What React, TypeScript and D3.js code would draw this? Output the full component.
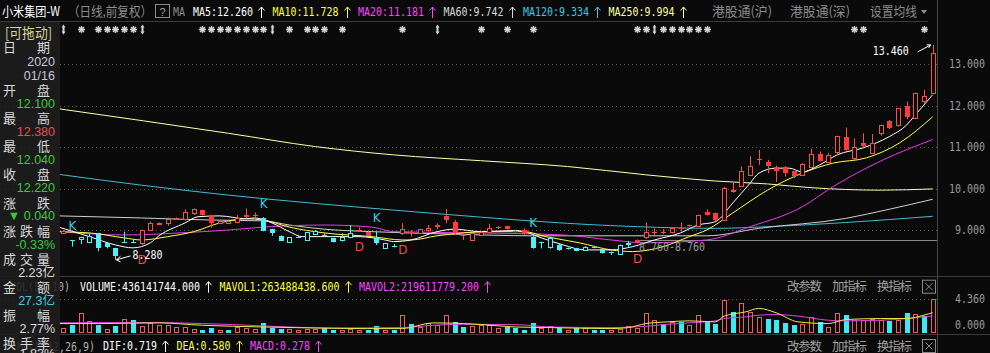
import React from 'react';
import * as d3 from 'd3';

const W = 990;
const H = 353;

// daily candles, oldest first (101 bars)
const opens = [8.92, 8.75, 8.78, 8.72, 8.92, 8.69, 8.56, 8.71, 8.72, 8.68, 9.0, 9.15, 9.16, 9.27, 9.26, 9.42, 9.48, 9.36, 9.16, 9.17, 9.2, 9.36, 9.36, 9.3, 9.02, 8.86, 8.72, 8.84, 8.76, 8.9, 8.89, 8.8, 8.76, 8.84, 9.0, 8.96, 8.8, 8.57, 8.62, 8.92, 8.96, 8.92, 9.0, 9.12, 9.34, 9.2, 8.88, 8.76, 8.88, 8.96, 9.08, 9.1, 8.97, 9.0, 8.84, 8.72, 8.58, 8.64, 8.56, 8.56, 8.52, 8.6, 8.54, 8.47, 8.41, 8.69, 8.76, 8.82, 8.94, 8.95, 8.94, 9.04, 9.13, 9.1, 9.44, 9.4, 9.24, 9.95, 10.07, 10.32, 10.7, 10.65, 10.53, 10.53, 10.41, 10.33, 10.53, 10.83, 10.65, 10.89, 11.23, 10.73, 11.09, 10.85, 11.33, 11.63, 11.53, 11.99, 11.69, 12.1, 12.31];
const highs = [9.0, 8.76, 8.84, 8.92, 8.93, 8.7, 8.57, 8.96, 8.76, 9.01, 9.2, 9.18, 9.3, 9.3, 9.5, 9.52, 9.49, 9.37, 9.24, 9.23, 9.36, 9.52, 9.42, 9.31, 9.03, 8.87, 8.83, 8.87, 8.95, 9.0, 8.92, 8.81, 8.92, 9.12, 9.06, 8.97, 8.96, 8.69, 8.66, 9.16, 9.0, 9.03, 9.12, 9.16, 9.5, 9.24, 8.93, 8.93, 8.97, 9.15, 9.09, 9.1, 8.99, 9.04, 8.85, 8.72, 8.81, 8.68, 8.58, 8.57, 8.61, 8.62, 8.55, 8.48, 8.65, 8.74, 8.77, 9.18, 9.04, 9.02, 9.05, 9.18, 9.13, 9.37, 9.5, 9.42, 10.04, 10.14, 10.53, 10.78, 10.93, 10.69, 10.55, 10.54, 10.43, 10.61, 10.96, 10.89, 10.86, 11.27, 11.47, 11.21, 11.33, 11.31, 11.54, 11.65, 11.93, 12.09, 12.31, 12.38, 13.46];
const lows = [8.9, 8.6, 8.66, 8.68, 8.49, 8.56, 8.28, 8.69, 8.68, 8.64, 8.98, 9.12, 9.1, 9.24, 9.23, 9.36, 9.35, 9.06, 9.14, 9.16, 9.16, 9.28, 9.28, 8.97, 8.86, 8.73, 8.71, 8.81, 8.75, 8.88, 8.85, 8.7, 8.72, 8.8, 8.96, 8.85, 8.64, 8.55, 8.58, 8.88, 8.84, 8.91, 8.96, 9.02, 9.16, 8.88, 8.76, 8.75, 8.86, 8.92, 9.02, 9.01, 8.94, 8.88, 8.55, 8.56, 8.55, 8.5, 8.53, 8.49, 8.51, 8.56, 8.43, 8.4, 8.4, 8.58, 8.68, 8.78, 8.84, 8.9, 8.92, 8.96, 9.08, 9.08, 9.35, 9.22, 9.22, 9.9, 10.05, 10.3, 10.57, 10.37, 10.16, 10.29, 10.25, 10.3, 10.5, 10.65, 10.63, 10.81, 10.91, 10.69, 10.99, 10.83, 11.27, 11.43, 11.49, 11.67, 11.67, 12.04, 12.3];
const closes = [8.98, 8.74, 8.84, 8.85, 8.56, 8.58, 8.37, 8.72, 8.71, 9.0, 9.16, 9.16, 9.26, 9.28, 9.43, 9.5, 9.36, 9.16, 9.22, 9.21, 9.3, 9.32, 9.36, 8.98, 8.92, 8.74, 8.82, 8.84, 8.94, 8.98, 8.88, 8.72, 8.84, 8.92, 9.0, 8.86, 8.68, 8.68, 8.61, 9.02, 8.92, 9.02, 9.06, 9.07, 9.23, 8.92, 8.91, 8.92, 8.96, 9.06, 9.08, 9.02, 8.96, 8.92, 8.56, 8.7, 8.8, 8.52, 8.56, 8.5, 8.6, 8.59, 8.44, 8.46, 8.64, 8.65, 8.7, 8.94, 8.95, 8.94, 9.04, 9.03, 9.13, 9.36, 9.35, 9.24, 10.02, 9.96, 10.42, 10.54, 10.71, 10.54, 10.41, 10.38, 10.29, 10.59, 10.83, 10.67, 10.81, 11.27, 10.93, 11.01, 11.02, 11.1, 11.52, 11.45, 11.93, 11.73, 12.29, 12.22, 13.26];
// volume in 亿 shares
const volumes = [0.7, 1.0, 2.65, 1.52, 1.0, 0.57, 0.87, 1.87, 1.65, 0.87, 1.31, 1.0, 1.0, 0.78, 0.78, 0.57, 0.44, 0.65, 0.44, 0.44, 0.78, 0.7, 0.57, 1.35, 0.65, 0.57, 0.57, 0.35, 0.57, 0.48, 0.7, 0.44, 0.44, 0.57, 0.44, 0.44, 0.87, 0.44, 0.44, 2.31, 1.22, 0.78, 1.31, 1.09, 2.31, 1.44, 0.78, 0.87, 1.0, 1.0, 0.7, 0.78, 0.7, 0.44, 1.31, 0.7, 0.87, 0.7, 0.44, 0.7, 0.7, 0.44, 0.44, 0.44, 0.57, 0.87, 0.7, 2.65, 1.68, 1.22, 1.44, 1.44, 1.0, 2.31, 1.44, 1.22, 4.33, 2.74, 3.92, 2.74, 2.09, 1.87, 1.65, 1.31, 1.09, 1.22, 2.09, 1.44, 0.78, 2.61, 2.31, 1.74, 1.74, 1.87, 1.74, 1.57, 1.74, 2.61, 2.52, 2.23, 4.36];

// signal bars: K = 空 (turn cyan), D = 多 (turn red)
const kSignals = [1, 23, 36, 54];
const dSignals = [9, 34, 39, 66];

// moving averages as [bar index, value]
const ma5 = [[-0.5, 9.07], [3, 8.84], [6, 8.64], [8, 8.57], [10, 8.69], [11, 8.86], [14, 9.17], [15.5, 9.32], [18, 9.34], [21, 9.27], [22, 9.29], [24, 9.17], [26, 8.96], [27.5, 8.84], [30, 8.84], [34, 8.84], [37, 8.76], [38, 8.72], [40, 8.76], [43, 8.96], [45, 9.02], [48, 8.96], [52, 8.99], [53, 8.96], [55, 8.81], [57.5, 8.64], [60, 8.52], [63, 8.52], [65.5, 8.6], [68, 8.76], [71, 8.93], [73, 9.12], [75, 9.2], [77, 9.65], [79, 10.13], [80, 10.37], [82, 10.49], [83.5, 10.49], [85, 10.4], [87, 10.57], [89, 10.81], [92, 10.98], [95, 11.25], [97, 11.53], [98, 11.77], [100, 12.26]];
const ma10 = [[-0.5, 8.96], [3, 8.93], [7, 8.81], [9, 8.76], [12, 8.84], [15, 8.96], [18, 9.17], [21, 9.27], [23, 9.24], [26, 9.07], [30, 8.93], [35.5, 8.84], [39, 8.76], [40, 8.76], [43, 8.86], [49, 8.96], [53, 8.96], [55.5, 8.84], [59.4, 8.69], [63, 8.52], [65.5, 8.48], [69, 8.6], [72, 8.84], [74, 9.0], [77, 9.41], [81, 9.96], [85, 10.37], [88.5, 10.61], [92.4, 10.74], [96.2, 11.1], [100, 11.73]];
const ma20 = [[-0.5, 8.96], [7, 8.88], [14.3, 8.94], [19, 9.0], [23, 9.07], [30, 9.12], [35.5, 9.07], [38, 8.96], [48, 8.93], [57.5, 8.88], [63, 8.76], [67, 8.69], [74, 8.76], [79, 9.08], [85, 9.56], [88.5, 10.04], [94.3, 10.69], [100, 11.18]];
const ma60 = [[-0.5, 9.34], [9, 9.29], [17, 9.24], [23, 9.22], [26, 9.12], [30, 9.02], [35.5, 8.96], [45, 8.9], [54, 8.86], [74, 8.86], [80, 9.04], [90, 9.28], [95, 9.5], [100, 9.74]];
const ma120 = [[-0.5, 10.34], [9, 10.08], [19, 9.84], [29, 9.64], [38, 9.48], [48, 9.31], [58, 9.16], [66, 9.08], [75, 9.04], [81, 9.08], [90, 9.18], [100, 9.33]];
const ma250 = [[-0.5, 11.92], [19, 11.33], [29, 11.01], [38, 10.81], [48, 10.67], [58, 10.53], [67, 10.33], [75, 10.18], [81, 10.11], [86, 10.02], [94, 9.96], [100, 9.99]];
const mavol1 = [[-0.5, 1.22], [4, 1.22], [11, 1.31], [16, 1.0], [19.5, 0.87], [23, 0.78], [31, 0.61], [35, 0.57], [39, 0.57], [42.5, 1.31], [46, 1.22], [48, 1.1], [52, 0.78], [56, 0.7], [63, 0.57], [65, 0.7], [67, 1.22], [69.5, 1.44], [72, 1.57], [75, 1.44], [76, 2.18], [78.5, 2.74], [80, 3.18], [82, 2.61], [84.5, 1.44], [88, 1.22], [90, 1.74], [94, 1.87], [97, 1.87], [99, 2.31], [100, 2.63]];
const mavol2 = [[-0.5, 1.31], [4, 1.35], [11, 1.35], [16, 1.22], [19.5, 1.09], [23, 0.91], [31, 0.65], [39, 0.7], [42.5, 1.0], [46, 1.13], [52, 1.09], [56, 0.78], [63, 0.7], [67, 0.87], [69.5, 1.13], [72, 1.31], [75, 1.57], [76, 1.87], [78.5, 2.09], [80, 2.31], [82, 2.39], [84.5, 2.18], [88, 1.65], [90, 1.57], [94, 1.65], [97, 1.87], [99, 2.09], [100, 2.2]];

// marker row above the candles
const starIdx = [2, 4, 5, 6, 7, 8, 16, 17, 18, 19, 20, 21, 22, 23, 26, 28, 29, 30, 32, 39, 48, 51, 54, 66, 67, 69, 70, 71, 72, 73, 74, 91, 92, 99];
const flagIdx = [0, 9, 24, 43, 68];

const priceTicks = [13, 12, 11, 10, 9];
const volTicks = [4.36, 0];
const lowMark = { idx: 6, text: '8.280' };
const highMark = { idx: 100, text: '13.460' };
const hLineValue = 8.76;

const maLegend = [['MA5', '12.260'], ['MA10', '11.728'], ['MA20', '11.181'], ['MA60', '9.742'], ['MA120', '9.334'], ['MA250', '9.994']];
const volLegend = [['VOLUME', '436141744.000'], ['MAVOL1', '263488438.600'], ['MAVOL2', '219611779.200']];
const macdLegend = [['DIF', '0.719'], ['DEA', '0.580'], ['MACD', '0.278']];

const infoLabels = ['日期', '开盘', '最高', '最低', '收盘', '涨跌', '涨跌幅', '成交量', '金额', '振幅', '换手率'];
const infoValues = [['2020', '01/16'], ['12.100'], ['12.380'], ['12.040'], ['12.220'], ['▼ 0.040'], ['-0.33%'], ['2.23亿'], ['27.3亿'], ['2.77%'], ['1.83%']];

const BG = '#0a0a0a';
const RED = '#f2514c';
const RED_FILL = '#ff3a3a';
const CYAN = '#4ef0fa';
const MONO = "'DejaVu Sans Mono', monospace";
const CJK = "'Noto Sans CJK SC', sans-serif";
const SANS = "'Liberation Sans', Arial, sans-serif";

const maColors = ['#ffffff', '#ffff3c', '#e63ce6', '#cfcfcf', '#3cbdd6', '#ffffa8'];
const legendColors = ['#ffffff', '#ffff3c', '#ff44ff', '#d8d8d8', '#44c4e4', '#ffffa8'];
const infoColors = ['#c8c8d6', '#3cc83c', '#e65050', '#3cc83c', '#3cc83c', '#3cc83c', '#3cc83c', '#dcdcdc', '#44cce4', '#dcdcdc', '#dcdcdc'];

const xs = d3.scaleLinear().domain([0, 100]).range([63.3, 932.7]);
const yp = d3.scaleLinear().domain([9, 13]).range([230, 64]);
const yv = d3.scaleLinear().domain([0, 4.36]).range([333, 299.3]);

const Mono = ({ x, y, text, fill, cw = 6, size = 11.5, anchor = 'start' }: any) => {
  const len = text.length * cw;
  const x0 = anchor === 'end' ? x - len : x;
  return (
    <text x={x0} y={y} fill={fill} fontSize={size} fontFamily={MONO} textLength={len} lengthAdjust="spacingAndGlyphs">
      {text}
    </text>
  );
};

const UpArrow = ({ x, yc, color }: any) => (
  <path d={`M${x + 0.5},${yc + 6} V${yc - 5} M${x - 2.5},${yc - 1.5} L${x + 0.5},${yc - 5} L${x + 3.5},${yc - 1.5}`} stroke={color} fill="none" strokeWidth={1} />
);

const Legend = ({ items, colors, x0, yc }: any) => {
  let x = x0;
  return (
    <g>
      {items.map(([name, val]: string[], i: number) => {
        const s = `${name}:${val}`;
        const cx = x;
        x += s.length * 6 + 19.5;
        return (
          <g key={i}>
            <Mono x={cx} y={yc + 4} text={s} fill={colors[i]} />
            <UpArrow x={Math.round(cx + s.length * 6 + 8)} yc={yc} color={colors[i]} />
          </g>
        );
      })}
    </g>
  );
};

const CloseBox = ({ x, y }: any) => (
  <g stroke="#8a8a8a" fill="none">
    <rect x={x + 0.5} y={y + 0.5} width={13} height={13} />
    <path d={`M${x + 3.5},${y + 3.5} L${x + 10.5},${y + 10.5} M${x + 10.5},${y + 3.5} L${x + 3.5},${y + 10.5}`} />
  </g>
);

const ToolTexts = ({ yc }: any) => (
  <g fontFamily={CJK} fontSize={12.5} fill="#a0a0a0">
    <text x={787} y={yc + 4.5} textLength={35}>改参数</text>
    <text x={832} y={yc + 4.5} textLength={35}>加指标</text>
    <text x={877} y={yc + 4.5} textLength={35}>换指标</text>
    <CloseBox x={922} y={yc - 7} />
  </g>
);

// eight-armed marker like the terminal's asterisk
const Star = ({ x, y }: any) => {
  const r = 3.5;
  const d = 2.5;
  return (
    <path
      d={`M${x - r},${y} H${x + r} M${x},${y - r} V${y + r} M${x - d},${y - d} L${x + d},${y + d} M${x + d},${y - d} L${x - d},${y + d}`}
      stroke="#d4d4d4"
      strokeWidth={1.4}
      fill="none"
    />
  );
};

const Flag = ({ x, y }: any) => (
  <path
    d={`M${x},${y - 5} L${x + 2},${y - 2} H${x + 1} V${y + 2} H${x + 2} L${x},${y + 5} L${x - 2},${y + 2} H${x - 1} V${y - 2} H${x - 2} Z`}
    fill="#d4d4d4"
  />
);

export default function App() {
  // trend state colours the candles
  const trend: boolean[] = [];
  let up = true;
  opens.forEach((_, i) => {
    if (kSignals.includes(i)) up = false;
    if (dSignals.includes(i)) up = true;
    trend.push(up);
  });

  const priceLine = d3.line<number[]>().x(d => xs(d[0])).y(d => yp(d[1])).curve(d3.curveMonotoneX);
  const volLine = d3.line<number[]>().x(d => xs(d[0])).y(d => yv(d[1])).curve(d3.curveMonotoneX);
  const maSeries = [ma5, ma10, ma20, ma60, ma120, ma250];

  const lowX = xs(lowMark.idx);
  const lowY = yp(lows[lowMark.idx]);
  const highX = xs(highMark.idx);
  const highY = yp(highs[highMark.idx]);
  const hLineY = Math.round(yp(hLineValue)) + 0.5;

  const rowY = (k: number) => 90 + (k - 1) * 28.15;

  return (
    <svg width={W} height={H} style={{ position: 'absolute', left: 0, top: 0, display: 'block' }} fontFamily={SANS}>
      <defs>
        <clipPath id="priceClip"><rect x={0} y={22} width={937} height={254} /></clipPath>
        <clipPath id="volClip"><rect x={0} y={277} width={937} height={57} /></clipPath>
      </defs>
      <rect width={W} height={H} fill={BG} />

      {/* frame lines */}
      <line x1={0} x2={928} y1={21.5} y2={21.5} stroke="#3a3a3a" />
      <line x1={0} x2={W} y1={276.5} y2={276.5} stroke="#3a3a3a" />
      <line x1={0} x2={W} y1={334.5} y2={334.5} stroke="#3a3a3a" />
      <line x1={937.5} x2={937.5} y1={0} y2={H} stroke="#444" />

      {/* price grid + axis */}
      {priceTicks.map(t => (
        <g key={t}>
          <line x1={0} x2={937} y1={Math.round(yp(t)) + 0.5} y2={Math.round(yp(t)) + 0.5} stroke="#5a5a5a" strokeDasharray="1 3" />
          <Mono x={985} y={yp(t) + 4} text={d3.format('.3f')(t)} fill="#9a9a9a" anchor="end" />
        </g>
      ))}
      <line x1={0} x2={937} y1={Math.round(yv(volTicks[0])) + 0.5} y2={Math.round(yv(volTicks[0])) + 0.5} stroke="#5a5a5a" strokeDasharray="1 3" />
      {volTicks.map(t => (
        <Mono key={t} x={985} y={Math.min(yv(t), 325) + 4} text={d3.format('.3f')(t)} fill="#9a9a9a" anchor="end" />
      ))}

      {/* marker row */}
      {starIdx.map(i => (
        <Star key={'s' + i} x={Math.round(xs(i)) + 0.5} y={29.5} />
      ))}
      {flagIdx.map(i => (
        <Flag key={'f' + i} x={Math.round(xs(i)) + 0.5} y={29.5} />
      ))}

      <g clipPath="url(#priceClip)">
        {/* user line at 8.760 */}
        <line x1={638} x2={937} y1={hLineY} y2={hLineY} stroke="#8a8a8a" />

        {/* moving averages */}
        {maSeries.slice().reverse().map((s, j) => (
          <path key={j} d={priceLine(s as any) || ''} fill="none" stroke={maColors[5 - j]} strokeWidth={1} />
        ))}

        {/* candles */}
        {opens.map((o, i) => {
          const c = closes[i];
          const px = Math.round(xs(i));
          const col = trend[i] ? RED : CYAN;
          const top = Math.round(yp(Math.max(o, c)));
          const bot = Math.round(yp(Math.min(o, c)));
          const filled = c < o;
          return (
            <g key={i}>
              <line x1={px + 0.5} x2={px + 0.5} y1={yp(highs[i])} y2={yp(lows[i])} stroke={col} />
              {bot - top < 1 ? (
                <line x1={px - 2} x2={px + 3} y1={top + 0.5} y2={top + 0.5} stroke={col} />
              ) : filled ? (
                <rect x={px - 2} y={top} width={5} height={bot - top} fill={trend[i] ? RED_FILL : CYAN} />
              ) : (
                <rect x={px - 1.5} y={top + 0.5} width={4} height={bot - top} fill={BG} stroke={col} />
              )}
            </g>
          );
        })}

        {/* K / D signals */}
        {kSignals.map(i => (
          <text key={'k' + i} x={xs(i) + 0.5} y={yp(highs[i]) - 14 + 4.5} fill="#3ccbe0" fontSize={12} textAnchor="middle" fontFamily="'DejaVu Sans'">K</text>
        ))}
        {dSignals.map(i => (
          <text key={'d' + i} x={xs(i) + 0.5} y={yp(lows[i]) + 15 + 4.5} fill="#e84c4c" fontSize={12} textAnchor="middle" fontFamily="'DejaVu Sans'">D</text>
        ))}

        {/* low / high annotations */}
        <path d={`M${lowX + 15},${lowY - 4} L${lowX + 1},${lowY} M${lowX + 5},${lowY - 3.5} L${lowX + 1},${lowY} L${lowX + 5},${lowY + 2}`} stroke="#ffffff" fill="none" />
        <Mono x={lowX + 17} y={lowY - 0.5} text={lowMark.text} fill="#ffffff" />
        <path d={`M${highX - 15},${highY + 7} L${highX - 2},${highY} M${highX - 6},${highY} L${highX - 2},${highY} L${highX - 4},${highY + 3}`} stroke="#ffffff" fill="none" />
        <Mono x={highX - 24} y={highY + 10} text={highMark.text} fill="#ffffff" anchor="end" />
        <Mono x={639} y={hLineY + 10.5} text={`${hLineValue.toFixed(3)}-${hLineValue.toFixed(3)}`} fill="#9a9a9a" />
      </g>

      {/* volume */}
      <g clipPath="url(#volClip)">
        {volumes.map((v, i) => {
          const px = Math.round(xs(i));
          const rising = i === 0 || closes[i] >= closes[i - 1];
          const top = Math.round(yv(v));
          const bot = Math.round(yv(0));
          return rising ? (
            <rect key={i} x={px - 1.5} y={top + 0.5} width={4} height={bot - top - 1} fill="none" stroke="#e8625c" />
          ) : (
            <rect key={i} x={px - 2} y={top} width={5} height={bot - top} fill="#3fe8f5" />
          );
        })}
        <path d={volLine(mavol2 as any) || ''} fill="none" stroke="#e040e0" />
        <path d={volLine(mavol1 as any) || ''} fill="none" stroke="#ecec44" />
      </g>

      {/* header row */}
      <text x={2} y={16} fill="#ffffff" fontSize={13} fontFamily={CJK} textLength={58} lengthAdjust="spacingAndGlyphs">小米集团-W</text>
      <text x={68} y={16} fill="#8c8c8c" fontSize={13} fontFamily={CJK} textLength={84} lengthAdjust="spacingAndGlyphs">（日线,前复权）</text>
      <rect x={155.5} y={4.5} width={14} height={13} fill="none" stroke="#8a8a8a" />
      <text x={162.5} y={15.5} fill="#a0a0a0" fontSize={11} textAnchor="middle" fontFamily={SANS}>?</text>
      <Mono x={173} y={16} text="MA" fill="#8c8c8c" />
      <Legend items={maLegend} colors={legendColors} x0={193} yc={12} />
      <text x={712} y={16} fill="#8c8c8c" fontSize={13} fontFamily={CJK} textLength={60} lengthAdjust="spacingAndGlyphs">港股通(沪)</text>
      <text x={790} y={16} fill="#8c8c8c" fontSize={13} fontFamily={CJK} textLength={60} lengthAdjust="spacingAndGlyphs">港股通(深)</text>
      <text x={870} y={16} fill="#8c8c8c" fontSize={13} fontFamily={CJK} textLength={47} lengthAdjust="spacingAndGlyphs">设置均线</text>
      <path d="M921,10 L927,10 L924,14 Z" fill="#8c8c8c" />

      {/* indicator headers */}
      <Mono x={10} y={291} text="VOL(5, 10)" fill="#b0b0b0" />
      <Legend items={volLegend} colors={['#ffffff', '#ffff3c', '#ff44ff']} x0={80} yc={286.7} />
      <ToolTexts yc={286.7} />
      <Mono x={17} y={350.5} text="MACD(12,26,9)" fill="#b0b0b0" />
      <Legend items={macdLegend} colors={['#ffffff', '#ffff3c', '#ff44ff']} x0={103} yc={346} />
      <ToolTexts yc={346} />

      {/* floating info panel */}
      <rect x={0} y={22} width={60} height={H - 22} fill="#1e1e1e" opacity={0.88} />
      <text x={5} y={38} fill="#d6d69a" fontSize={14} fontFamily={CJK} textLength={47} lengthAdjust="spacingAndGlyphs">[可拖动]</text>
      <text x={3} y={52} fill="#d8d8d8" fontSize={13} fontFamily={CJK} textLength={47} lengthAdjust="spacing">{infoLabels[0]}</text>
      <text x={55} y={66} fill={infoColors[0]} fontSize={12.5} textAnchor="end">{infoValues[0][0]}</text>
      <text x={55} y={79.5} fill={infoColors[0]} fontSize={12.5} textAnchor="end">{infoValues[0][1]}</text>
      {infoLabels.slice(1).map((lab, j) => {
        const k = j + 1;
        const y = rowY(k);
        return (
          <g key={lab}>
            <text x={3} y={y + 5} fill="#d8d8d8" fontSize={13} fontFamily={CJK} textLength={47} lengthAdjust="spacing">{lab}</text>
            <text x={55} y={Math.min(y + 17.8, 358)} fill={infoColors[k]} fontSize={12.5} textAnchor="end" fontFamily={`${SANS}, ${CJK}`}>{infoValues[k][0]}</text>
          </g>
        );
      })}
    </svg>
  );
}
